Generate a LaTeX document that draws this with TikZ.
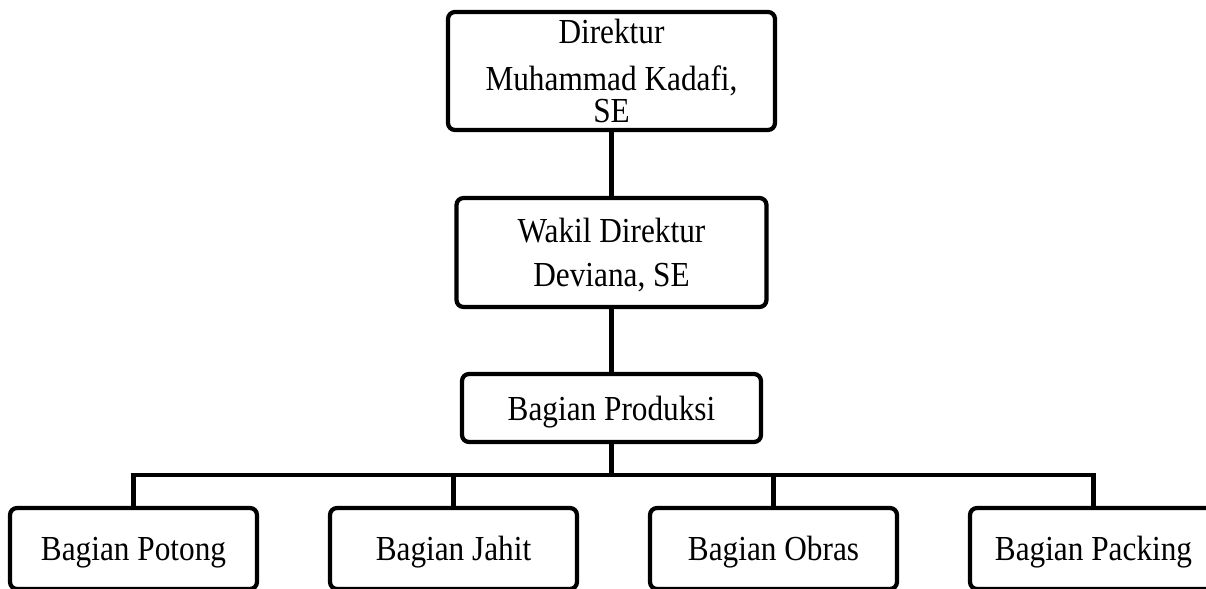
\documentclass[tikz,border=0pt]{standalone}
\usepackage{fontspec}
\setmainfont{Liberation Serif}[FakeStretch=0.89]
\usetikzlibrary{positioning}

\begin{document}
\begin{tikzpicture}
		[box/.style={rectangle,draw=black,fill=white,rounded corners=4pt,line width=2.4pt,outer sep=0pt,inner sep=0pt,align=center,text depth=0pt,font=\fontsize{20}{18.7}\selectfont},
		unit/.style={box,minimum width=4.94cm,minimum height=1.62cm},
		link/.style={draw=black,line width=2.4pt}]
		\path [use as bounding box,clip] (0,0) rectangle (24.12,11.78);
		\node [box,minimum width=6.54cm,minimum height=2.36cm] (dir) at (12.23,10.36) {Direktur\\[7.9pt]Muhammad Kadafi,\\SE};
		\node [box,minimum width=6.2cm,minimum height=2.18cm] (wakil) [below=1.36cm of dir] {Wakil Direktur\\[6.3pt]Deviana, SE};
		\node [box,minimum width=5.98cm,minimum height=1.36cm] (prod) [below=1.34cm of wakil] {Bagian Produksi};

		\node [unit,anchor=north west] (potong) at (0.2,1.62) {Bagian Potong};
		\node [unit] (jahit) [right=1.46cm of potong] {Bagian Jahit};
		\node [unit] (obras) [right=1.46cm of jahit] {Bagian Obras};
		\node [unit] (packing) [right=1.46cm of obras] {Bagian Packing};

		\coordinate [below=0.66cm of prod] (bus);
		\draw [link] (dir) -- (wakil);
		\draw [link] (wakil) -- (prod);
		\draw [link] (prod) -- (bus);
		\draw [link] (potong.north) |- (bus) -| (packing.north);
		\draw [link] (jahit) -- (jahit |- bus);
		\draw [link] (obras) -- (obras |- bus);

	\end{tikzpicture}
\end{document}
